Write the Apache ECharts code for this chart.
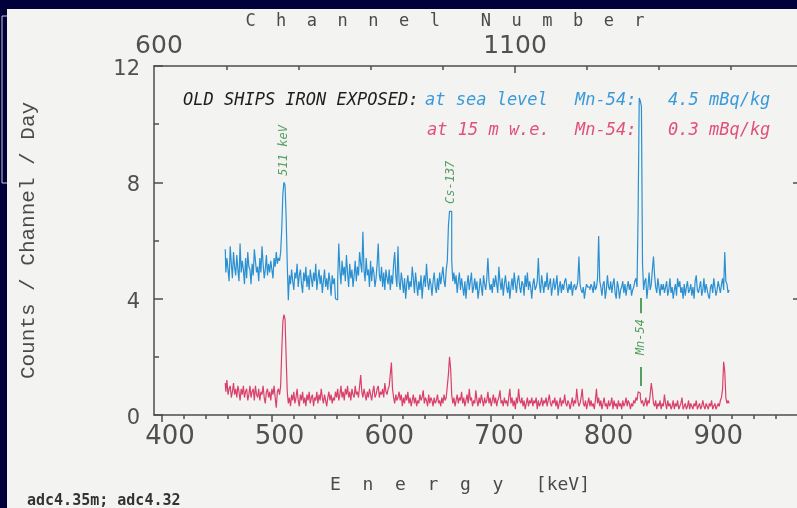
<!DOCTYPE html>
<html><head><meta charset="utf-8">
<script src="https://cdn.jsdelivr.net/npm/echarts@6/dist/echarts.min.js"></script>
<style>html,body{margin:0;padding:0;background:#f3f3f1;overflow:hidden}#c{width:797px;height:508px}</style>
</head><body><div id="c"></div>
<script>
// Energy bins (keV): first bin centre and bin width
const energyStart = 458, energyStep = 1;

// Counts / Channel / Day — iron exposed at sea level (blue), 458..918 keV
const seaLevel = [
5.7,4.9,5.4,5.0,4.6,5.8,5.2,4.7,5.6,5.1,
4.8,5.5,5.0,4.6,5.9,4.9,5.3,5.0,4.5,5.4,
4.7,5.6,5.1,5.0,4.5,5.2,4.8,5.7,5.3,4.9,
5.1,4.6,5.4,4.9,5.8,5.2,4.7,5.0,5.5,4.8,
5.2,4.9,5.3,5.0,4.7,5.4,5.1,5.6,5.2,5.4,
5.3,5.6,6.4,7.6,8.0,7.9,6.8,5.2,3.95,4.8,
4.5,5.0,4.6,4.3,4.9,4.7,5.2,4.4,4.8,5.0,
4.5,4.2,4.9,4.6,5.1,4.4,4.8,4.3,5.0,4.7,
4.4,4.9,4.6,5.2,4.3,4.7,5.0,4.5,4.8,4.2,
4.6,5.0,4.4,4.7,4.3,4.9,4.6,4.1,4.8,4.5,
4.7,4.0,3.95,4.6,5.9,5.0,4.5,5.3,4.8,5.1,
4.6,5.5,4.9,4.4,5.2,4.7,5.0,4.4,4.8,5.3,
4.6,5.1,4.8,5.6,5.2,4.9,6.3,5.0,4.6,5.4,
4.8,5.0,4.4,5.3,4.6,5.1,4.9,4.4,4.7,5.2,
5.9,4.8,4.6,5.1,4.4,4.9,4.3,5.0,4.7,4.5,
5.0,4.3,4.8,4.5,5.2,5.6,4.8,4.4,5.8,4.6,
4.3,4.9,4.6,4.2,4.7,4.0,4.5,4.8,4.3,4.6,
4.4,5.1,4.7,4.2,4.9,4.5,4.1,4.6,4.3,4.8,
4.0,4.5,4.8,4.4,5.2,4.6,4.3,4.7,4.5,4.1,
4.6,4.9,4.4,4.2,4.7,4.3,4.9,4.5,4.8,5.1,
4.6,4.4,5.0,5.3,6.5,7.0,7.0,5.3,4.6,4.9,
4.5,4.8,4.2,4.6,4.9,4.3,4.7,4.4,4.1,4.6,
4.0,4.5,4.8,4.3,4.6,4.9,4.2,4.4,4.7,4.3,
4.6,4.0,4.3,4.7,4.4,4.1,4.8,4.5,4.3,4.7,
5.4,4.6,4.3,4.5,4.2,4.7,4.4,4.8,4.5,4.2,
5.1,4.6,4.3,4.7,4.1,4.5,4.8,4.4,4.2,4.6,
4.0,4.4,4.7,4.3,4.9,4.5,4.2,4.6,4.8,4.4,
4.2,4.6,4.5,4.1,4.8,4.4,4.9,4.3,4.6,4.4,
4.0,4.5,4.7,4.3,4.4,4.6,5.4,4.5,4.2,4.8,
4.5,4.2,4.6,4.4,4.9,4.3,4.5,4.7,4.1,4.4,
4.7,4.3,4.5,4.8,4.1,4.4,4.6,4.2,4.5,4.3,
4.6,4.7,4.4,4.2,4.5,4.3,4.6,4.1,4.4,4.5,
4.3,4.4,4.6,5.45,4.5,4.3,4.2,4.4,4.0,4.3,
4.5,4.4,4.4,4.3,4.5,4.4,4.2,4.6,4.3,4.4,
4.7,6.15,4.6,4.4,4.1,4.5,4.6,4.0,4.3,4.8,
4.4,4.3,4.6,4.2,4.5,4.7,4.2,4.0,4.6,4.4,
4.0,4.3,4.4,4.6,4.2,4.5,4.1,4.4,4.6,4.3,
4.5,4.1,4.3,4.4,4.6,4.7,4.4,7.0,10.9,10.8,
10.6,5.2,4.3,4.6,4.7,4.0,4.4,4.9,4.3,4.5,
5.0,5.45,4.8,4.4,4.2,4.7,4.4,4.1,4.5,4.3,
4.5,4.2,4.4,4.6,4.1,4.3,4.7,4.2,4.4,4.0,
4.3,4.5,4.1,4.7,4.4,4.6,4.2,4.4,4.0,4.5,
4.1,4.4,4.6,4.2,4.3,4.5,4.1,4.4,4.0,4.6,
4.8,4.3,4.2,4.4,4.6,4.1,4.3,4.7,4.2,4.5,
4.3,4.1,4.0,4.4,4.5,4.2,4.7,4.4,4.1,4.3,
4.6,4.4,4.2,4.5,4.7,4.3,5.6,4.6,4.5,4.2,
4.3
];

// at 15 m w.e. (pink), 458..918 keV
const shallow = [
1.1,0.8,1.2,0.7,0.9,1.0,0.6,0.8,1.1,0.7,
0.9,0.6,1.0,0.8,0.5,0.9,0.7,1.0,0.6,0.8,
0.9,0.5,0.7,1.0,0.6,0.8,0.9,0.5,1.0,0.7,
0.6,0.9,0.5,0.8,0.7,1.0,0.6,0.4,0.8,0.9,
0.6,0.8,0.5,0.9,0.7,1.0,0.6,0.25,0.8,0.9,
0.7,1.0,2.2,3.2,3.45,3.3,2.0,0.8,0.4,0.6,
0.3,0.7,0.5,0.8,0.4,0.6,0.9,0.5,0.3,0.7,
0.5,0.8,0.4,0.6,0.3,0.7,0.5,0.8,0.4,0.6,
0.7,0.3,0.6,0.5,0.8,0.4,0.7,0.5,0.9,0.6,
0.4,0.7,0.5,0.3,0.6,0.8,0.5,0.7,0.4,0.6,
0.5,0.8,0.6,0.9,0.5,0.7,1.0,0.6,0.8,0.5,
0.9,0.7,1.0,0.6,0.8,0.5,0.9,0.7,0.6,1.0,
0.7,0.8,0.6,1.0,1.37,0.8,0.6,0.9,0.7,0.5,
0.8,0.6,0.9,0.7,0.5,0.8,1.0,0.6,0.7,0.9,
1.0,0.6,0.8,0.7,0.9,0.6,1.1,0.8,0.7,0.9,
1.0,1.4,1.8,0.9,0.6,0.4,0.7,0.5,0.6,0.8,
0.5,0.7,0.3,0.6,0.4,0.7,0.5,0.8,0.4,0.6,
0.3,0.5,0.7,0.4,0.6,0.3,0.5,0.4,0.7,0.5,
0.6,0.85,0.4,0.6,0.5,0.3,0.7,0.4,0.6,0.5,
0.3,0.6,0.4,0.5,0.7,0.4,0.5,0.3,0.6,0.4,
0.7,0.5,0.6,1.0,1.4,2.0,1.6,0.7,0.4,0.6,
0.3,0.5,0.7,0.4,0.6,0.5,0.8,0.4,0.6,0.3,
0.5,0.7,0.4,0.9,0.5,0.6,0.3,0.5,0.4,0.85,
0.5,0.3,0.6,0.4,0.7,0.5,0.3,0.6,0.4,0.5,
0.8,0.4,0.6,0.3,0.5,0.7,0.4,0.6,0.3,0.5,
0.6,0.85,0.4,0.5,0.3,0.6,0.4,0.5,0.3,0.6,
0.9,0.4,0.6,0.3,0.5,0.2,0.6,0.4,0.9,0.5,
0.4,0.6,0.3,0.5,0.2,0.4,0.6,0.3,0.5,0.4,
0.6,0.3,0.5,0.4,0.6,0.2,0.5,0.3,0.4,0.6,
0.3,0.5,0.4,0.6,0.3,0.5,0.7,0.4,0.3,0.5,
0.4,0.6,0.3,0.5,0.2,0.4,0.6,0.3,0.5,0.4,
0.7,0.4,0.3,0.5,0.4,0.2,0.4,0.6,0.3,0.5,
0.4,0.9,0.5,0.3,0.4,0.6,0.9,0.4,0.3,0.5,
0.2,0.4,0.6,0.3,0.5,0.3,0.4,0.2,0.5,0.9,
0.4,0.6,0.3,0.5,0.2,0.4,0.6,0.3,0.4,0.2,
0.5,0.3,0.4,0.6,0.2,0.5,0.3,0.4,0.2,0.5,
0.3,0.4,0.2,0.5,0.3,0.4,0.6,0.3,0.5,0.4,
0.2,0.4,0.3,0.5,0.4,0.6,0.5,0.8,0.75,0.6,
0.4,0.5,0.3,0.4,0.6,0.3,0.5,0.4,0.7,1.1,
0.8,0.4,0.3,0.5,0.2,0.4,0.3,0.5,0.2,0.4,
0.3,0.7,0.4,0.2,0.5,0.3,0.4,0.2,0.3,0.5,
0.2,0.4,0.3,0.5,0.2,0.3,0.4,0.6,0.2,0.3,
0.4,0.2,0.3,0.5,0.2,0.4,0.3,0.2,0.4,0.3,
0.5,0.2,0.3,0.4,0.2,0.3,0.5,0.3,0.2,0.4,
0.3,0.2,0.4,0.3,0.5,0.2,0.3,0.4,0.2,0.3,
0.4,0.3,0.5,0.6,0.9,1.83,1.5,0.6,0.4,0.5,
0.4
];

// Axis ticks / labels
const energyMajor = [400,500,600,700,800,900];
const energyMinor = [420,440,460,480,520,540,560,580,620,640,660,680,720,740,760,780,820,840,860,880,920,940,960,980];
const channelLabels = [600,1100];
const channelMinor = [700,800,900,1000,1200,1300,1400,1500];
const channelMajor = [1100];
const countLabels = [0,4,8,12];
const rightTicks = [4,8];

// Peak annotations
const peakNames = ['511 keV','Cs-137','Mn-54'];
const peakEnergy = [511.5,663.8,837];
const peakLabelY = [9.1,8.0,2.68];
const mn54Marks = [[4.02,3.5],[1.65,1.0]];

const toPairs = vals => vals.map((v,i)=>[energyStart+i*energyStep, v]);

const chart = echarts.init(document.getElementById('c'), null, {renderer:'canvas'});
const axisCol = '#4d4d4d';
const lblCol = '#505050';
const G = '#2e8a3e';
const BLUE = '#2a90d2', PINK = '#d9406b';
const itFont = 'italic 17px "DejaVu Sans Mono"';

function baseX(extra){ return Object.assign({type:'value', gridIndex:0, splitLine:{show:false},
  axisLine:{show:false, onZero:false}, axisLabel:{show:false}, axisTick:{show:false}}, extra); }
function baseY(extra){ return Object.assign({type:'value', gridIndex:0, min:0, max:12, splitLine:{show:false},
  axisLine:{show:false, onZero:false}, axisLabel:{show:false}, axisTick:{show:false}}, extra); }
function txt(x,y,text,font,fill,align){
  return {type:'text', x:x, y:y, silent:true, style:{text:text, font:font, fill:fill,
    align:align||'left', verticalAlign:'middle', textAlign:align||'left', textVerticalAlign:'middle'}};
}

const option = {
  animation:false,
  backgroundColor:'#f3f3f1',
  grid:{left:154, top:66, right:-10, bottom:93, outerBoundsMode:'none', show:false},
  xAxis:[
    baseX({position:'bottom', min:393, max:988.5,
      axisLine:{show:true, onZero:false, lineStyle:{color:axisCol, width:1.5}},
      axisTick:{show:true, inside:false, length:7, customValues:energyMajor, lineStyle:{color:axisCol,width:1.5}},
      axisLabel:{show:true, customValues:energyMajor, margin:9, color:lblCol, fontFamily:'DejaVu Sans', fontSize:26,
        formatter:v=>'  '+String(v)}}),
    baseX({position:'top', min:598.6, max:1505.5,
      axisLine:{show:true, onZero:false, lineStyle:{color:axisCol, width:1.5}},
      axisTick:{show:true, inside:true, length:4, customValues:channelMinor, lineStyle:{color:axisCol,width:1.5}},
      axisLabel:{show:true, customValues:channelLabels, margin:7, color:lblCol, fontFamily:'DejaVu Sans', fontSize:25,
        formatter:v=>(v===600?' ':'')+String(v)}}),
    baseX({position:'bottom', min:393, max:988.5,
      axisTick:{show:true, inside:false, length:4, customValues:energyMinor, lineStyle:{color:axisCol,width:1.5}}}),
    baseX({position:'top', min:598.6, max:1505.5,
      axisTick:{show:true, inside:true, length:7, customValues:channelMajor, lineStyle:{color:axisCol,width:1.5}}})
  ],
  yAxis:[
    baseY({position:'left', interval:4,
      axisLine:{show:true, onZero:false, lineStyle:{color:axisCol, width:1.5}},
      axisTick:{show:true, inside:true, length:9, lineStyle:{color:axisCol,width:1.5}},
      axisLabel:{show:true, customValues:countLabels, margin:14, color:lblCol, fontFamily:'DejaVu Sans', fontSize:21,
        verticalAlign:'top', lineHeight:7, formatter:v=>String(v)},
      name:'Counts / Channel / Day', nameLocation:'middle', nameRotate:90, nameGap:115,
      nameTextStyle:{fontFamily:'Liberation Mono', fontSize:21, color:'#4a4a4a'}}),
    baseY({position:'left', interval:2,
      axisTick:{show:true, inside:true, length:5, lineStyle:{color:axisCol,width:1.5}}}),
    baseY({position:'right',
      axisLine:{show:true, onZero:false, lineStyle:{color:axisCol, width:1.5}},
      axisTick:{show:true, inside:true, length:14, customValues:rightTicks, lineStyle:{color:axisCol,width:1.5}}})
  ],
  series:[
    {type:'line', name:'at sea level', xAxisIndex:0, yAxisIndex:0, step:'middle', showSymbol:false, symbol:'none',
     data:toPairs(seaLevel), lineStyle:{color:BLUE, width:1.2}, itemStyle:{color:BLUE}, z:3},
    {type:'line', name:'at 15 m w.e.', xAxisIndex:0, yAxisIndex:0, step:'middle', showSymbol:false, symbol:'none',
     data:toPairs(shallow), lineStyle:{color:PINK, width:1.2}, itemStyle:{color:PINK}, z:3},
    {type:'scatter', name:'peaks', xAxisIndex:0, yAxisIndex:0, symbolSize:0,
     data:peakNames.map((n,i)=>({name:n, value:[peakEnergy[i], peakLabelY[i]]})),
     label:{show:true, position:'inside', rotate:90, formatter:p=>p.name, color:G,
            fontFamily:'DejaVu Sans Mono', fontStyle:'italic', fontSize:12},
     markLine:{silent:true, symbol:'none', label:{show:false}, lineStyle:{color:G, width:1.6, type:'solid'},
       data: mn54Marks.map(m=>[{coord:[peakEnergy[2], m[0]]},{coord:[peakEnergy[2], m[1]]}])},
     z:4}
  ],
  graphic:[
    {type:'rect', shape:{x:0,y:0,width:797,height:9}, style:{fill:'#00003a'}, z:100, silent:true},
    {type:'rect', shape:{x:0,y:0,width:7,height:508}, style:{fill:'#00003a'}, z:100, silent:true},
    {type:'polyline', shape:{points:[[7,16],[2,16],[2,183],[7,183]]}, style:{stroke:'#c8c8d0', lineWidth:1, fill:null}, z:101, silent:true},
    txt(445,22,'C  h  a  n  n  e  l    N  u  m  b  e  r','17px "DejaVu Sans Mono"','#4a4a4a','center'),
    txt(460,485,'E  n  e  r  g  y   [keV]','18px "DejaVu Sans Mono"','#4a4a4a','center'),
    txt(27,501,'adc4.35m; adc4.32','bold 15px "DejaVu Sans Mono"','#333'),
    txt(183,101,'OLD SHIPS IRON EXPOSED:',itFont,'#1e1e1e'),
    txt(425,101,'at sea level',itFont,'#3a9ad9'),
    txt(575,101,'Mn-54:',itFont,'#3a9ad9'),
    txt(668,101,'4.5 mBq/kg',itFont,'#3a9ad9'),
    txt(427,131,'at 15 m w.e.',itFont,'#e0507a'),
    txt(575,131,'Mn-54:',itFont,'#e0507a'),
    txt(668,131,'0.3 mBq/kg',itFont,'#e0507a')
  ]
};
chart.setOption(option);
</script>
</body></html>
